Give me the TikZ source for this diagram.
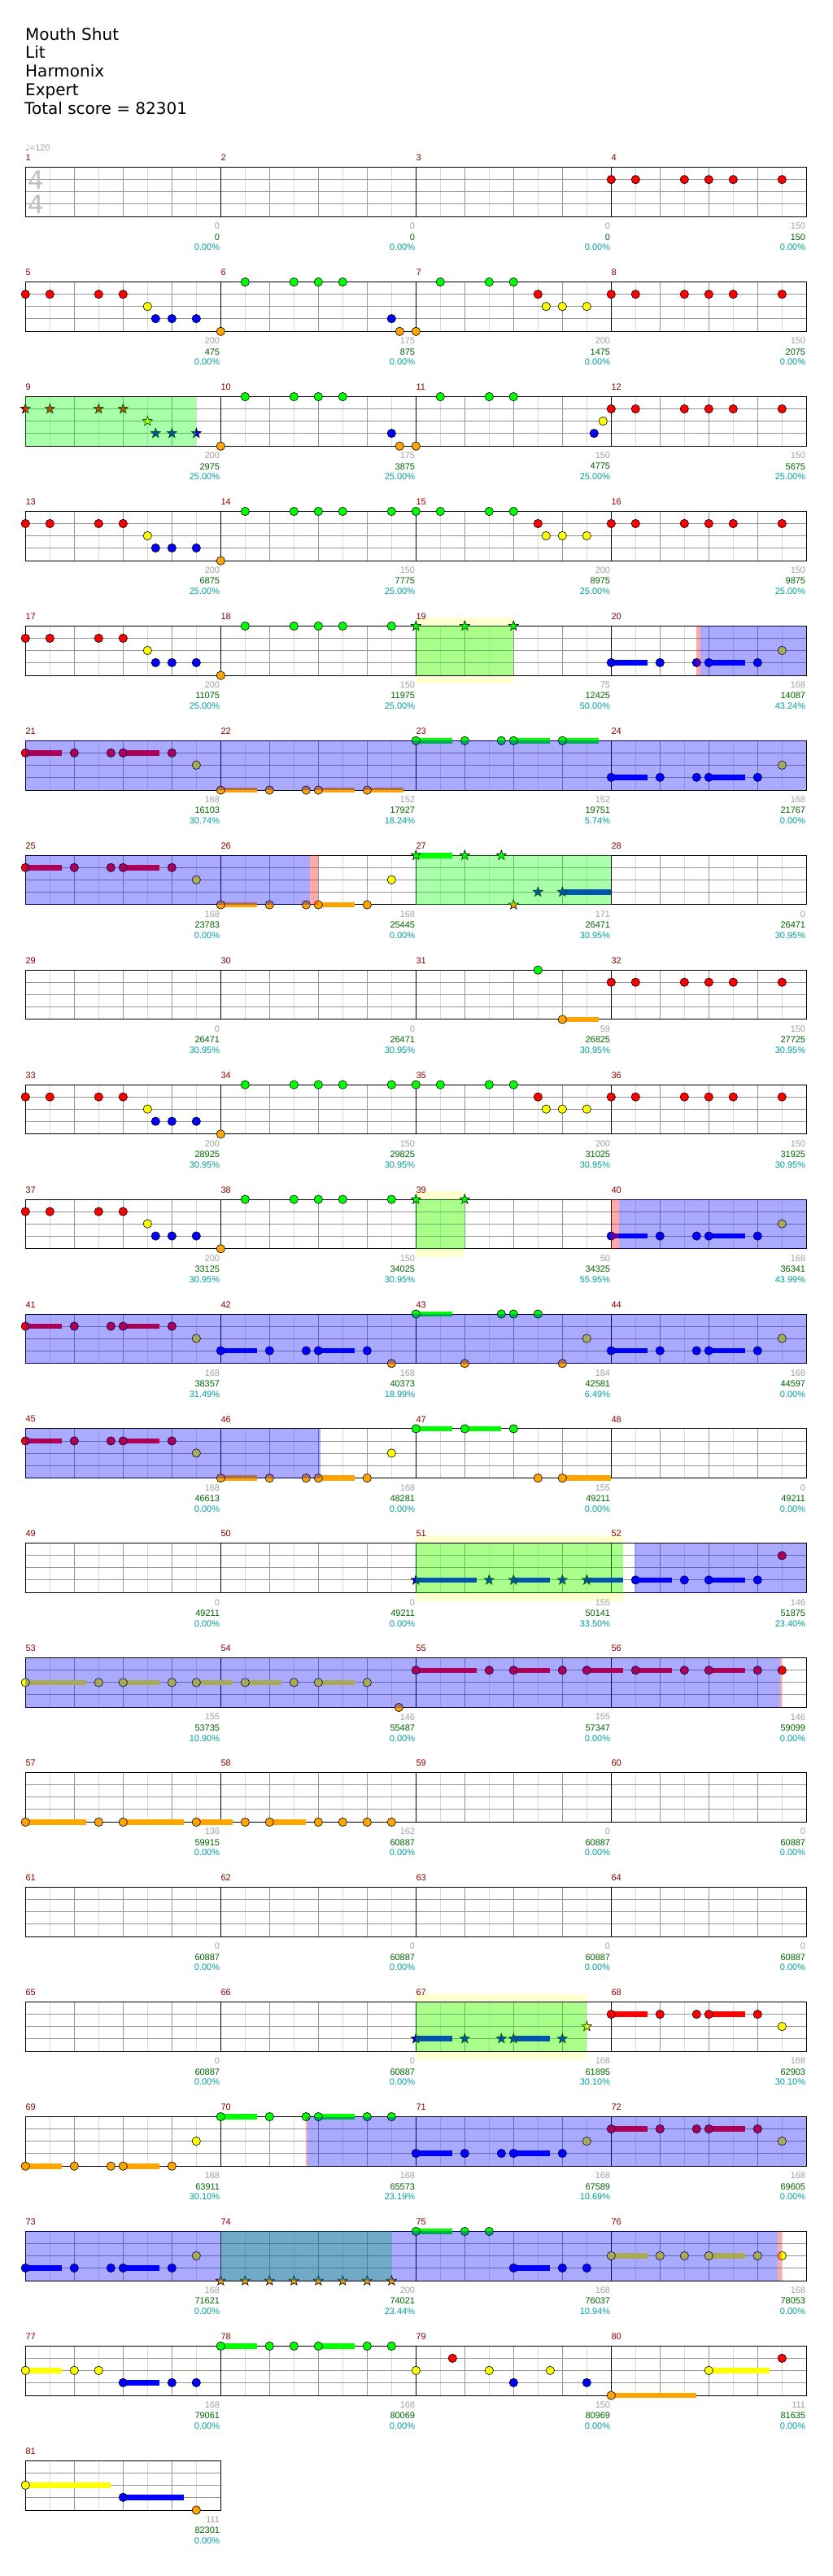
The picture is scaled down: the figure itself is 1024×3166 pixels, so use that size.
\documentclass[tikz,border=0pt]{standalone}
\usepackage{fontspec}
\setmainfont{DejaVu Sans}
\newfontfamily\lblfont{Liberation Sans}
\newfontfamily\symfont{DejaVu Sans}

\pgfdeclarelayer{background}
\pgfdeclarelayer{bars}
\pgfdeclarelayer{hilite}
\pgfsetlayers{background,bars,main,hilite}

\definecolor{nG}{RGB}{0,255,0}
\definecolor{nR}{RGB}{255,0,0}
\definecolor{nY}{RGB}{255,255,0}
\definecolor{nB}{RGB}{0,0,255}
\definecolor{nO}{RGB}{255,165,0}
\definecolor{numred}{RGB}{140,0,0}
\definecolor{ptsgray}{RGB}{160,160,160}
\definecolor{totgreen}{RGB}{0,100,0}
\definecolor{pctcyan}{RGB}{0,155,155}
\definecolor{bandyellow}{RGB}{255,255,208}

% measure -> top left corner of its staff (\mx,\my)
\newcommand{\mpos}[1]{%
  \pgfmathtruncatemacro{\mrow}{(#1-1)/4}%
  \pgfmathtruncatemacro{\mcol}{#1-1-4*\mrow}%
  \pgfmathsetmacro{\mx}{\xo+\mcol*\mw}%
  \pgfmathsetmacro{\my}{\yo+\mrow*\rowh}}
\newcommand{\lanepos}[2]{\mpos{#1}\edef\lo{\csname lane#2\endcsname}%
  \pgfmathsetmacro{\ly}{\my+\lo}}
% gems, star gems and sustains
\newcommand{\hit}[3]{\lanepos{#1}{#2}%
  \foreach \px in {#3}{\filldraw[gem, fill=n#2] (\mx+\px,\ly) circle (5.2pt);}}
\newcommand{\odhit}[3]{\lanepos{#1}{#2}%
  \foreach \px in {#3}{\pic at (\mx+\px,\ly) {odstar=n#2};}}
\newcommand{\hold}[4]{\lanepos{#1}{#2}%
  \begin{pgfonlayer}{bars}
    \fill[n#2] (\mx+#3,\ly-3.3) rectangle (\mx+#3+#4,\ly+3.3);
  \end{pgfonlayer}}
\newcommand{\riff}[2]{\hit{#1}{#2}{0,60,105,120,180}\hold{#1}{#2}{0}{45}\hold{#1}{#2}{120}{45}}
% shaded spans: [style]{m1}{off1}{m2}{off2}
\newcommand{\zone}[5][odzone]{\mpos{#4}\pgfmathsetmacro{\xe}{\mx+#5}\mpos{#2}%
  \begin{pgfonlayer}{hilite}
    \fill[#1] (\mx+#3,\my) rectangle (\xe,\my+\sh);
  \end{pgfonlayer}}
\newcommand{\band}[4]{\mpos{#3}\pgfmathsetmacro{\xe}{\mx+#4}\mpos{#1}%
  \begin{pgfonlayer}{background}
    \fill[bandyellow] (\mx+#2,\my-10) rectangle (\xe,\my+\sh+10);
  \end{pgfonlayer}}
% drum patterns
\newcommand{\grooveA}[1]{\hit{#1}{R}{0,30,90,120}\hit{#1}{Y}{150}\hit{#1}{B}{160,180,210}}
\newcommand{\grooveB}[1]{\hit{#1}{O}{0}\hit{#1}{G}{30,90,120,150,210}}
\newcommand{\grooveC}[1]{\hit{#1}{G}{0,30,90,120}\hit{#1}{R}{150}\hit{#1}{Y}{160,180,210}}
\newcommand{\grooveD}[1]{\hit{#1}{R}{0,30,90,120,150,210}}

\begin{document}
\begin{tikzpicture}[x=1pt,y=-1pt,
    gem/.style={draw=black, line width=0.6pt},
    pics/odstar/.style={code={\filldraw[gem, fill=#1]
      (90:6.4pt) -- (126:2.6pt) -- (162:6.4pt) -- (198:2.6pt) -- (234:6.4pt) --
      (270:2.6pt) -- (306:6.4pt) -- (342:2.6pt) -- (18:6.4pt) -- (54:2.6pt) -- cycle;}},
    odzone/.style={fill=nG, fill opacity=0.333},
    bonuszone/.style={fill=nB, fill opacity=0.333},
    cuezone/.style={fill=nR, fill opacity=0.333},
    gridhalf/.style={draw={rgb,255:red,218;green,218;blue,218}, line width=0.8pt},
    gridbeat/.style={draw={rgb,255:red,150;green,150;blue,150}, line width=0.8pt},
    gridlane/.style={draw={rgb,255:red,150;green,150;blue,150}, line width=0.8pt},
    staffbox/.style={draw=black, line width=1pt},
    lbl/.style={inner sep=0pt, font=\lblfont\fontsize{11}{13}\selectfont},
    mnum/.style={lbl, anchor=west, text=numred},
    ptslbl/.style={lbl, anchor=east, text=ptsgray},
    totlbl/.style={lbl, anchor=east, text=totgreen},
    pctlbl/.style={lbl, anchor=east, text=pctcyan},
    title/.style={anchor=base west, inner sep=0pt, font=\fontsize{20}{24}\selectfont}]
    \def\xo{31.3}
    \def\yo{205.7}
    \def\mw{240}
    \def\rowh{140.93}
    \def\sh{60.7}
    \def\laneG{0}
    \def\laneR{15}
    \def\laneY{30}
    \def\laneB{45}
    \def\laneO{60.7}

    \useasboundingbox (0,0) rectangle (1024,3166);

    % header
    \node[title] (song) at (31,49.3) {Mouth Shut};
    \node[title] (artist) at (31,72) {Lit};
    \node[title] (author) at (31,95) {Harmonix};
    \node[title] (level) at (31,118) {Expert};
    \node[title] (total) at (30,141) {Total score = 82301};
    \node[lbl, anchor=west, text=ptsgray] (tempo) at (31,181)
      {{\symfont\fontsize{12}{12}\selectfont ♩}=120};
    \node[inner sep=0pt, text=gray!50, font=\fontsize{31}{31}\selectfont] (tsup) at (44.5,221) {4};
    \node[inner sep=0pt, text=gray!50, font=\fontsize{31}{31}\selectfont] (tsdown) at (44.5,251) {4};

    % overdrive phrase bands
    \band{19}{0}{19}{120}
    \band{39}{0}{39}{60}
    \band{51}{0}{52}{15}
    \band{67}{0}{67}{210}

    % staves
    \foreach \m in {1,...,81}{
      \mpos{\m}
      \begin{pgfonlayer}{background}
        \foreach \px in {30,90,150,210} \draw[gridhalf] (\mx+\px,\my) -- ++(0,\sh);
        \foreach \px in {60,120,180} \draw[gridbeat] (\mx+\px,\my) -- ++(0,\sh);
        \foreach \py in {15,30,45} \draw[gridlane] (\mx,\my+\py) -- ++(\mw,0);
        \draw[staffbox] (\mx,\my) rectangle ++(\mw,\sh);
      \end{pgfonlayer}
    }

    % measure numbers and scores
    \foreach \m/\pts/\tot/\pct in {1/0/0/0.00, 2/0/0/0.00, 3/0/0/0.00, 4/150/150/0.00,
        5/200/475/0.00, 6/175/875/0.00, 7/200/1475/0.00, 8/150/2075/0.00,
        9/200/2975/25.00, 10/175/3875/25.00, 11/150/4775/25.00, 12/150/5675/25.00,
        13/200/6875/25.00, 14/150/7775/25.00, 15/200/8975/25.00, 16/150/9875/25.00,
        17/200/11075/25.00, 18/150/11975/25.00, 19/75/12425/50.00, 20/168/14087/43.24,
        21/168/16103/30.74, 22/152/17927/18.24, 23/152/19751/5.74, 24/168/21767/0.00,
        25/168/23783/0.00, 26/168/25445/0.00, 27/171/26471/30.95, 28/0/26471/30.95,
        29/0/26471/30.95, 30/0/26471/30.95, 31/59/26825/30.95, 32/150/27725/30.95,
        33/200/28925/30.95, 34/150/29825/30.95, 35/200/31025/30.95, 36/150/31925/30.95,
        37/200/33125/30.95, 38/150/34025/30.95, 39/50/34325/55.95, 40/168/36341/43.99,
        41/168/38357/31.49, 42/168/40373/18.99, 43/184/42581/6.49, 44/168/44597/0.00,
        45/168/46613/0.00, 46/168/48281/0.00, 47/155/49211/0.00, 48/0/49211/0.00,
        49/0/49211/0.00, 50/0/49211/0.00, 51/155/50141/33.50, 52/146/51875/23.40,
        53/155/53735/10.90, 54/146/55487/0.00, 55/155/57347/0.00, 56/146/59099/0.00,
        57/136/59915/0.00, 58/162/60887/0.00, 59/0/60887/0.00, 60/0/60887/0.00,
        61/0/60887/0.00, 62/0/60887/0.00, 63/0/60887/0.00, 64/0/60887/0.00,
        65/0/60887/0.00, 66/0/60887/0.00, 67/168/61895/30.10, 68/168/62903/30.10,
        69/168/63911/30.10, 70/168/65573/23.19, 71/168/67589/10.69, 72/168/69605/0.00,
        73/168/71621/0.00, 74/200/74021/23.44, 75/168/76037/10.94, 76/168/78053/0.00,
        77/168/79061/0.00, 78/168/80069/0.00, 79/150/80969/0.00, 80/111/81635/0.00,
        81/111/82301/0.00}{
      \mpos{\m}
      \node[mnum] (num\m) at (\mx,\my-11.7) {\m};
      \node[ptslbl] (pts\m) at (\mx+239,\my+\sh+11.7) {\pts};
      \node[totlbl] (tot\m) at (\mx+239,\my+\sh+25) {\tot};
      \node[pctlbl] (pct\m) at (\mx+239,\my+\sh+37.7) {\pct\%};
    }

    % measures 1-16
    \grooveD{4}
    \grooveA{5}
    \hit{6}{O}{0,220} \hit{6}{G}{30,90,120,150} \hit{6}{B}{210}
    \hit{7}{O}{0} \hit{7}{G}{30,90,120} \hit{7}{R}{150} \hit{7}{Y}{160,180,210}
    \grooveD{8}
    \odhit{9}{R}{0,30,90,120} \odhit{9}{Y}{150} \odhit{9}{B}{160,180,210}
    \hit{10}{O}{0,220} \hit{10}{G}{30,90,120,150} \hit{10}{B}{210}
    \hit{11}{O}{0} \hit{11}{G}{30,90,120} \hit{11}{B}{219} \hit{11}{Y}{230}
    \grooveD{12}
    \grooveA{13}
    \grooveB{14}
    \grooveC{15}
    \grooveD{16}

    % measures 17-32
    \grooveA{17}
    \grooveB{18}
    \odhit{19}{G}{0,60,120}
    \riff{20}{B} \hit{20}{Y}{210}
    \riff{21}{R} \hit{21}{Y}{210}
    \riff{22}{O} \hold{22}{O}{180}{45}
    \riff{23}{G} \hold{23}{G}{180}{45}
    \riff{24}{B} \hit{24}{Y}{210}
    \riff{25}{R} \hit{25}{Y}{210}
    \riff{26}{O} \hit{26}{Y}{210}
    \odhit{27}{G}{0,60,105} \hold{27}{G}{0}{45}
    \odhit{27}{O}{120} \odhit{27}{B}{150,180} \hold{27}{B}{180}{60}
    \hit{31}{G}{150} \hit{31}{O}{180} \hold{31}{O}{180}{45}
    \grooveD{32}

    % measures 33-48
    \grooveA{33}
    \grooveB{34}
    \grooveC{35}
    \grooveD{36}
    \grooveA{37}
    \grooveB{38}
    \odhit{39}{G}{0,60}
    \riff{40}{B} \hit{40}{Y}{210}
    \riff{41}{R} \hit{41}{Y}{210}
    \riff{42}{B} \hit{42}{O}{210}
    \hit{43}{G}{0,105,120,150} \hold{43}{G}{0}{45} \hit{43}{O}{60,180} \hit{43}{Y}{210}
    \riff{44}{B} \hit{44}{Y}{210}
    \riff{45}{R} \hit{45}{Y}{210}
    \riff{46}{O} \hit{46}{Y}{210}
    \hit{47}{G}{0,60,120} \hold{47}{G}{0}{45} \hold{47}{G}{60}{45}
    \hit{47}{O}{150,180} \hold{47}{O}{180}{60}

    % measures 49-64
    \odhit{51}{B}{0,90,120,180,210}
    \hold{51}{B}{0}{75} \hold{51}{B}{120}{45} \hold{51}{B}{210}{45}
    \hit{52}{B}{30,90,120,180} \hold{52}{B}{30}{45} \hold{52}{B}{120}{45} \hit{52}{R}{210}
    \hit{53}{Y}{0,90,120,180,210}
    \hold{53}{Y}{0}{75} \hold{53}{Y}{120}{45} \hold{53}{Y}{210}{45}
    \hit{54}{Y}{30,90,120,180} \hold{54}{Y}{30}{45} \hold{54}{Y}{120}{45} \hit{54}{O}{219}
    \hit{55}{R}{0,90,120,180,210}
    \hold{55}{R}{0}{75} \hold{55}{R}{120}{45} \hold{55}{R}{210}{45}
    \hit{56}{R}{30,90,120,180,210} \hold{56}{R}{30}{45} \hold{56}{R}{120}{45}
    \hit{57}{O}{0,90,120,210} \hold{57}{O}{0}{75} \hold{57}{O}{120}{75} \hold{57}{O}{210}{45}
    \hit{58}{O}{30,60,120,150,180,210} \hold{58}{O}{60}{45}

    % measures 65-81
    \odhit{67}{B}{0,60,105,120,180} \hold{67}{B}{0}{45} \hold{67}{B}{120}{45}
    \odhit{67}{Y}{210}
    \riff{68}{R} \hit{68}{Y}{210}
    \riff{69}{O} \hit{69}{Y}{210}
    \riff{70}{G} \hit{70}{G}{210}
    \riff{71}{B} \hit{71}{Y}{210}
    \riff{72}{R} \hit{72}{Y}{210}
    \riff{73}{B} \hit{73}{Y}{210}
    \odhit{74}{O}{0,30,60,90,120,150,180,210}
    \hit{75}{G}{0,60,90} \hold{75}{G}{0}{45} \hit{75}{B}{120,180,210} \hold{75}{B}{120}{45}
    \hit{76}{Y}{0,60,90,120,180,210} \hold{76}{Y}{0}{45} \hold{76}{Y}{120}{45}
    \hit{77}{Y}{0,60,90} \hold{77}{Y}{0}{45} \hit{77}{B}{120,180,210} \hold{77}{B}{120}{45}
    \hit{78}{G}{0,60,90,120,180,210} \hold{78}{G}{0}{45} \hold{78}{G}{120}{45}
    \hit{79}{Y}{0,90,165} \hit{79}{R}{45} \hit{79}{B}{120,210}
    \hit{80}{O}{0} \hold{80}{O}{0}{105} \hit{80}{Y}{120} \hold{80}{Y}{120}{75} \hit{80}{R}{210}
    \hit{81}{Y}{0} \hold{81}{Y}{0}{105} \hit{81}{B}{120} \hold{81}{B}{120}{75} \hit{81}{O}{210}

    % overdrive phrases
    \zone{9}{0}{9}{210}
    \zone{19}{0}{19}{120}
    \zone{27}{0}{27}{240}
    \zone{39}{0}{39}{60}
    \zone{51}{0}{52}{15}
    \zone{67}{0}{67}{210}
    \zone{74}{0}{74}{210}

    % overdrive active
    \zone[bonuszone]{20}{110}{20}{240}
    \zone[bonuszone]{21}{0}{24}{240}
    \zone[bonuszone]{25}{0}{26}{110}
    \zone[bonuszone]{40}{10}{40}{240}
    \zone[bonuszone]{41}{0}{44}{240}
    \zone[bonuszone]{45}{0}{46}{123}
    \zone[bonuszone]{52}{29}{52}{240}
    \zone[bonuszone]{53}{0}{56}{208}
    \zone[bonuszone]{70}{107}{72}{240}
    \zone[bonuszone]{73}{0}{76}{205}

    % activation cues
    \zone[cuezone]{20}{105}{20}{110}
    \zone[cuezone]{26}{110}{26}{120}
    \zone[cuezone]{40}{0}{40}{10}
    \zone[cuezone]{56}{208}{56}{210}
    \zone[cuezone]{70}{105}{70}{107}
    \zone[cuezone]{76}{205}{76}{210}
\end{tikzpicture}
\end{document}
